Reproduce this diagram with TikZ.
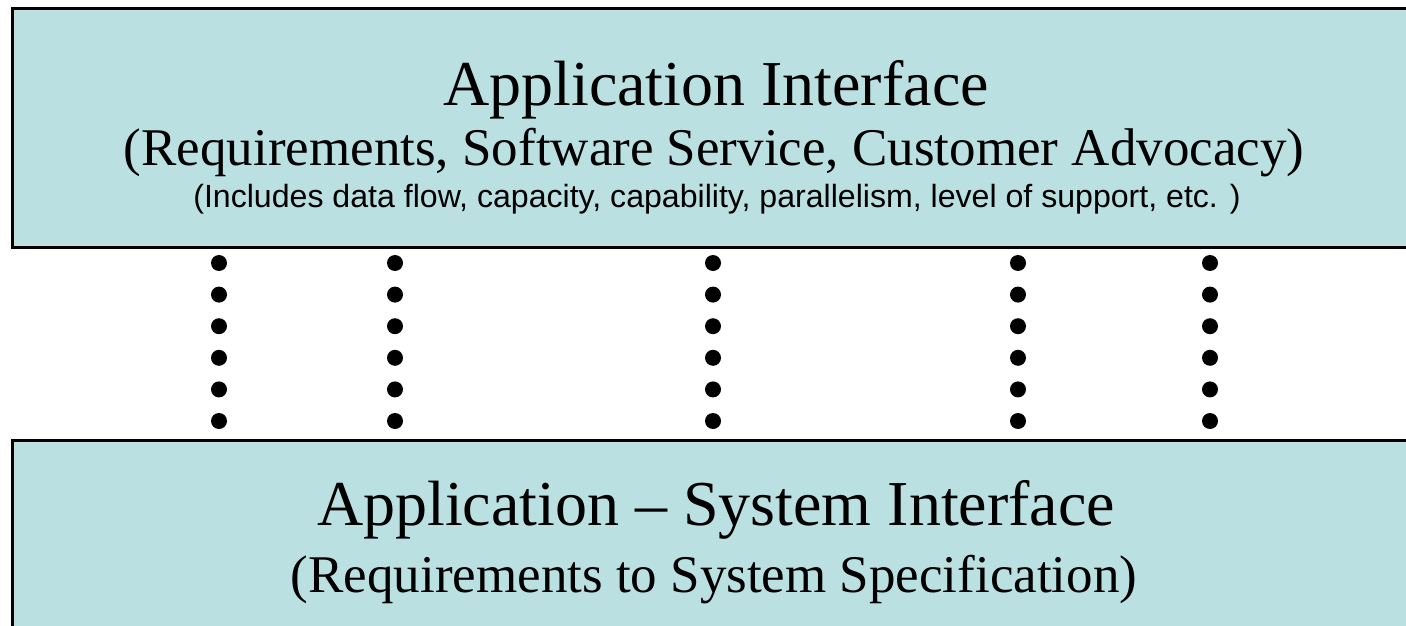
\documentclass[tikz,border=0pt]{standalone}
\usepackage{fontspec}
\setmainfont{Liberation Serif}
\newfontfamily\notefont{Liberation Sans}
\usepackage{tikz}
\definecolor{layerblue}{RGB}{186,224,226}
\tikzset{
  layer/.style={draw=black, line width=3pt, fill=layerblue, inner sep=0pt, anchor=north west},
  bigtext/.style={anchor=base, inner sep=0pt, font=\fontsize{64}{68}\selectfont},
  midtext/.style={anchor=base, inner sep=0pt, font=\fontsize{53}{56}\selectfont},
  smalltext/.style={anchor=base, inner sep=0pt, font=\notefont\fontsize{32.1}{35}\selectfont}
}
\begin{document}
\begin{tikzpicture}[x=1pt,y=-1pt]
\useasboundingbox (0,0) rectangle (1406,626);
\clip (0,0) rectangle (1406,626);
\node[layer, minimum width=1420pt, minimum height=239pt] (appbox) at (11,7) {};
\node[layer, minimum width=1420pt, minimum height=220pt] (sysbox) at (11,439) {};

\node[bigtext] (apptitle) at (716,105) {Application Interface};
\node[midtext] (appsub) at (714,165) {(Requirements, Software Service, Customer Advocacy)};
\node[smalltext] (appnote) at (717,207) {(Includes data flow, capacity, capability, parallelism, level of support, etc. )};

\node[bigtext] (systitle) at (716,525) {Application -- System Interface};
\node[midtext] (syssub) at (714,592) {(Requirements to System Specification)};

\foreach \x in {219,395,713,1018,1210}
  \foreach \y in {263,294.6,326.2,357.8,389.4,421}
    \fill (\x,\y) circle (8pt);
\end{tikzpicture}
\end{document}
